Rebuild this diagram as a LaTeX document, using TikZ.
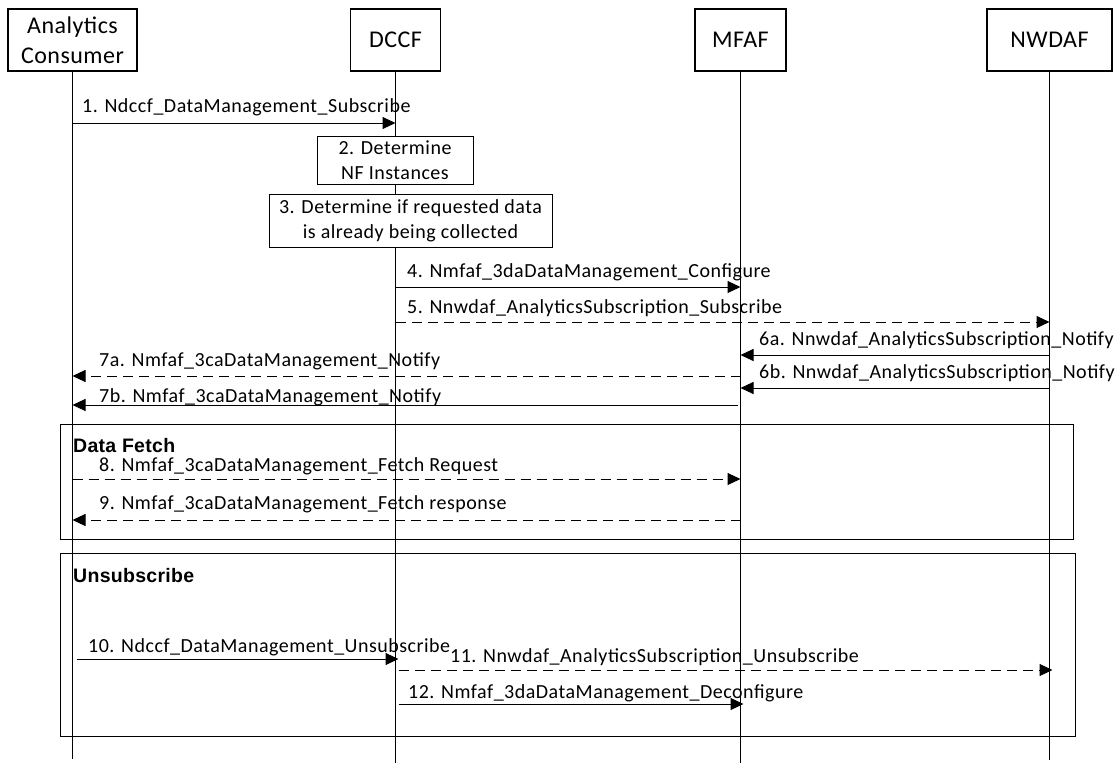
\documentclass[tikz,border=0pt]{standalone}
\usepackage{fontspec}
\setmainfont{Carlito}
\newfontfamily\msgfont[LetterSpace=2.5]{Carlito}
\newfontfamily\headfont[LetterSpace=2]{Carlito}
\newfontfamily\arialfont[LetterSpace=1.5]{Liberation Sans}
\usetikzlibrary{arrows.meta}
\begin{document}
\begin{tikzpicture}[x=1pt,y=-1pt,
  head/.style={draw, line width=1.1pt, inner sep=0pt, align=center, minimum height=62pt, font=\headfont\fontsize{24}{30}\selectfont},
  actbox/.style={draw, line width=1pt, fill=white, inner sep=0pt, align=center, font=\msgfont\fontsize{20}{25}\selectfont},
  life/.style={line width=1pt},
  msg/.style={line width=1pt, -{Triangle[length=13pt,width=12pt]}},
  reply/.style={msg, dash pattern=on 10pt off 6pt},
  lbl/.style={anchor=base west, inner sep=0pt, font=\msgfont\fontsize{20}{24}\selectfont},
  frm/.style={draw, line width=1pt, inner sep=0pt},
  frametitle/.style={anchor=base west, inner sep=0pt, font=\arialfont\bfseries\fontsize{19.5}{23}\selectfont}
]
\useasboundingbox (0,0) rectangle (1115,763);

% frames
\node[frm, minimum width=1013pt, minimum height=115pt] (fetch) at (566.5,482) {};
\node[frm, minimum width=1015pt, minimum height=183pt] (unsub) at (567.5,644.5) {};
\node[frametitle] (fetchT) at (73,452) {Data Fetch};
\node[frametitle] (unsubT) at (73,582) {Unsubscribe};

% heads
\node[head, minimum width=129pt] (AC) at (72.5,40) {Analytics\\Consumer};
\node[head, minimum width=90pt] (DCCF) at (395.5,40) {DCCF};
\node[head, minimum width=91pt] (MFAF) at (740.5,40) {MFAF};
\node[head, minimum width=125pt] (NWDAF) at (1049.5,40) {NWDAF};

% lifelines
\draw[life] (AC.south) -- (AC.south |- 0,759);
\draw[life] (DCCF.south) -- (DCCF.south |- 0,763);
\draw[life] (MFAF.south) -- (MFAF.south |- 0,763);
\draw[life] (NWDAF.south) -- (NWDAF.south |- 0,760);

% activity boxes
\node[actbox, minimum width=156pt, minimum height=48pt] (s2) at (395,160) {2. Determine\\NF Instances};
\node[actbox, minimum width=283pt, minimum height=53pt] (s3) at (410.5,220.5) {3. Determine if requested data\\is already being collected};

% messages
\draw[msg] (AC.south |- 0,123) -- (DCCF.south |- 0,123);
\node[lbl] (l1) at (82,112) {1. Ndccf\_DataManagement\_Subscribe};

\draw[msg] (DCCF.south |- 0,287) -- (MFAF.south |- 0,287);
\node[lbl] (l4) at (407,277) {4. Nmfaf\_3daDataManagement\_Configure};

\draw[reply] (DCCF.south |- 0,322) -- (NWDAF.south |- 0,322);
\node[lbl] (l5) at (407,313) {5. Nnwdaf\_AnalyticsSubscription\_Subscribe};

\draw[msg] (NWDAF.south |- 0,355) -- (MFAF.south |- 0,355);
\node[lbl] (l6a) at (759,345) {6a. Nnwdaf\_AnalyticsSubscription\_Notify};

\draw[reply] (MFAF.south |- 0,376) -- (AC.south |- 0,376);
\node[lbl] (l7a) at (99,366) {7a. Nmfaf\_3caDataManagement\_Notify};

\draw[msg] (NWDAF.south |- 0,388) -- (MFAF.south |- 0,388);
\node[lbl] (l6b) at (759,378) {6b. Nnwdaf\_AnalyticsSubscription\_Notify};

\draw[msg] ([xshift=-3pt]MFAF.south |- 0,405) -- (AC.south |- 0,405);
\node[lbl] (l7b) at (99,402) {7b. Nmfaf\_3caDataManagement\_Notify};

\draw[reply] (AC.south |- 0,479) -- (MFAF.south |- 0,479);
\node[lbl] (l8) at (99,471) {8. Nmfaf\_3caDataManagement\_Fetch Request};

\draw[reply] (MFAF.south |- 0,520) -- (AC.south |- 0,520);
\node[lbl] (l9) at (99,509) {9. Nmfaf\_3caDataManagement\_Fetch response};

\draw[msg] ([xshift=4pt]AC.south |- 0,659) -- ([xshift=3pt]DCCF.south |- 0,659);
\node[lbl] (l10) at (88,652) {10. Ndccf\_DataManagement\_Unsubscribe};

\draw[reply] ([xshift=3pt]DCCF.south |- 0,670) -- ([xshift=3pt]NWDAF.south |- 0,670);
\node[lbl] (l11) at (450,662) {11. Nnwdaf\_AnalyticsSubscription\_Unsubscribe};

\draw[msg] ([xshift=3pt]DCCF.south |- 0,704) -- ([xshift=3pt]MFAF.south |- 0,704);
\node[lbl] (l12) at (408,698) {12. Nmfaf\_3daDataManagement\_Deconfigure};
\end{tikzpicture}
\end{document}
